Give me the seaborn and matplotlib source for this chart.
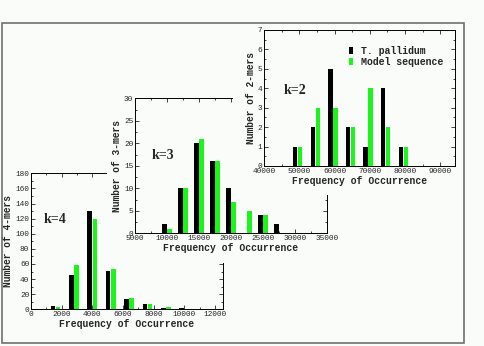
import pandas as pd
import seaborn as sns
import matplotlib.pyplot as plt
from matplotlib.patches import Rectangle
from matplotlib.ticker import MultipleLocator

# series shown in every panel
series = ['T. pallidum', 'Model sequence']
colors = ['black', '#1cf51c']

# k=4 panel
k4_freq = [1600, 2800, 4000, 5200, 6400, 7600, 8800, 10000]
k4_tp = [5, 45, 130, 51, 13, 7, 2, 2]
k4_model = [3, 59, 119, 53, 15, 7, 3, 0]

# k=3 panel
k3_freq = [10000, 12500, 15000, 17500, 20000, 22500, 25000, 27500]
k3_tp = [2, 10, 20, 16, 10, 0, 4, 2]
k3_model = [1, 10, 21, 16, 7, 5, 4, 0]

# k=2 panel
k2_freq = [49500, 54500, 59500, 64500, 69500, 74500, 79500]
k2_tp = [1, 2, 5, 2, 1, 4, 1]
k2_model = [1, 3, 3, 2, 4, 2, 1]

sns.set_style('ticks')
plt.rcParams['font.family'] = ['Liberation Mono', 'DejaVu Sans Mono']
plt.rcParams['axes.linewidth'] = 0.7

bg = '#fafcfa'
W, H = 485, 346
fig = plt.figure(figsize=(4.85, 3.46), dpi=100, facecolor=bg)


def px_rect(x0, y0, x1, y1):
    # pixel box (top-left origin) -> figure fraction
    return [x0 / W, 1 - y1 / H, (x1 - x0) / W, (y1 - y0) / H]


def make_df(freq, tp, model):
    return pd.DataFrame({
        'freq': freq + freq,
        'count': tp + model,
        'series': [series[0]] * len(freq) + [series[1]] * len(freq),
    })


def cover(x0, y0, x1, y1, z):
    r = px_rect(x0, y0, x1, y1)
    fig.add_artist(Rectangle((r[0], r[1]), r[2], r[3], transform=fig.transFigure,
                             facecolor=bg, edgecolor='none', zorder=z))


def panel(box, z, df, xlim, xmajor, ylim, ymajor, yminor, ylabel, ktext, kpos,
          width, gap, legend=False):
    ax = fig.add_axes(px_rect(*box), zorder=z)
    ax.set_facecolor(bg)
    sns.barplot(data=df, x='freq', y='count', hue='series', hue_order=series,
                palette=colors, native_scale=True, width=width, gap=gap,
                errorbar=None, linewidth=0, saturation=1, legend=legend, ax=ax)
    ax.set_xlim(*xlim)
    ax.set_ylim(*ylim)
    ax.xaxis.set_major_locator(MultipleLocator(xmajor))
    ax.xaxis.set_minor_locator(MultipleLocator(xmajor / 2))
    ax.yaxis.set_major_locator(MultipleLocator(ymajor))
    ax.yaxis.set_minor_locator(MultipleLocator(yminor))
    ax.tick_params(which='both', direction='in', top=True, right=True,
                   labelsize=5.6, pad=1.3, width=0.6)
    ax.tick_params(which='major', length=3)
    ax.tick_params(which='minor', length=1.5)
    ax.set_xlabel('Frequency of Occurrence', fontsize=7, fontweight='bold', labelpad=1)
    ax.set_ylabel(ylabel, fontsize=6.9, fontweight='bold', labelpad=1.5)
    ax.text(kpos[0], kpos[1], ktext, transform=ax.transAxes, fontsize=10,
            fontweight='bold', family='Liberation Serif', va='center', ha='left')
    for s in ax.spines.values():
        s.set_color('black')
    return ax


ax4 = panel((31, 173.3, 222.7, 309.3), 1, make_df(k4_freq, k4_tp, k4_model),
            (0, 12500), 2000, (0, 180), 20, 10, 'Number of 4-mers', 'k=4',
            (0.068, 0.657), 0.56, 0.1)

cover(107, 94, 340, 263, 2)
ax3 = panel((135, 98.3, 326.7, 233.3), 3, make_df(k3_freq, k3_tp, k3_model),
            (5000, 35000), 5000, (0, 30), 5, 2.5, 'Number of 3-mers', 'k=3',
            (0.089, 0.573), 0.63, 0.09)

cover(233, 24, 462, 195, 4)
ax2 = panel((264.3, 30, 455, 166), 5, make_df(k2_freq, k2_tp, k2_model),
            (40000, 94200), 10000, (0, 7), 1, 0.5, 'Number of 2-mers', 'k=2',
            (0.103, 0.554), 0.57, 0.13, legend=True)

handles, labels = ax2.get_legend_handles_labels()
ax2.legend(handles, labels, loc='upper left', bbox_to_anchor=(0.444, 0.885),
           frameon=False, prop={'size': 7.1, 'weight': 'bold'},
           handlelength=0.36, handleheight=0.7, handletextpad=0.85,
           labelspacing=0.12, borderpad=0, borderaxespad=0)

# outer frame
fr = px_rect(2, 23, 464, 343)
fig.add_artist(Rectangle((fr[0], fr[1]), fr[2], fr[3], transform=fig.transFigure,
                         facecolor='none', edgecolor='#707070', lw=1.2, zorder=10))

fig.savefig('out.png', dpi=100, facecolor=bg)
